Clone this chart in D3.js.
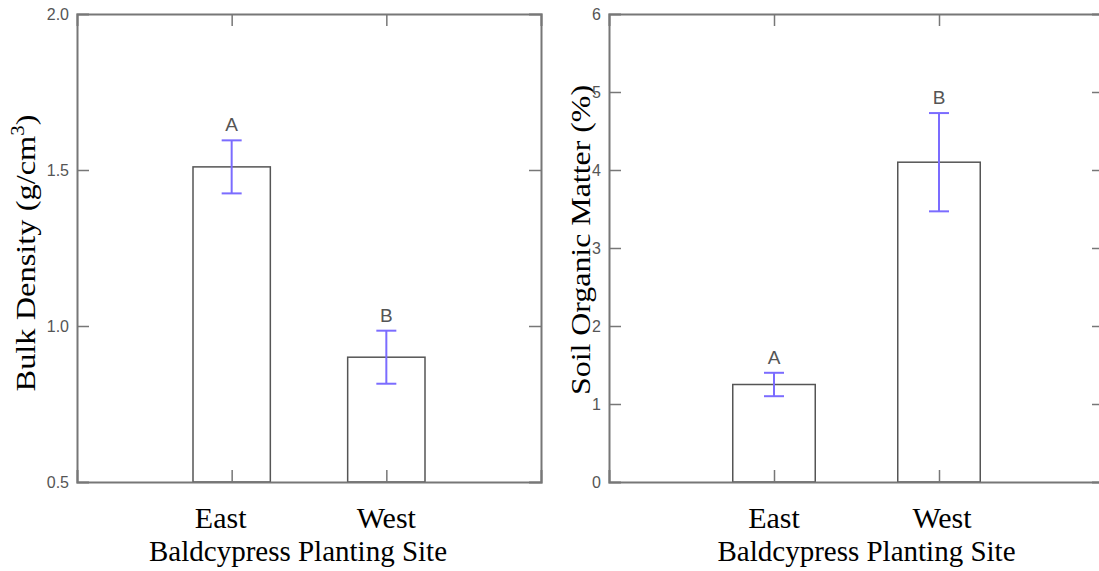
<!DOCTYPE html>
<html>
<head>
<meta charset="utf-8">
<script src="https://cdn.jsdelivr.net/npm/d3@7"></script>
<style>
  body { margin: 0; background: #fff; }
  svg { display: block; }
</style>
</head>
<body>
<div id="chart"></div>
<script>
'use strict'
/* Datos */
var sites = ['East', 'West'];
var bulkDensity = [1.51, 0.90];
var bulkErr = [0.085, 0.085];
var bulkLetters = ['A', 'B'];
var bulkTicks = [0.5, 1.0, 1.5, 2.0];

var organic = [1.25, 4.10];
var organicErr = [0.15, 0.63];
var organicLetters = ['A', 'B'];
var organicTicks = [0, 1, 2, 3, 4, 5, 6];

var W = 1099, H = 571;
var serif = 'Liberation Serif, Times New Roman, serif';
var sans = 'Liberation Sans, Arial, sans-serif';
var svg = d3.select('#chart').append('svg').attr('width', W).attr('height', H);

function panel(opts){
  var x0 = opts.x0, x1 = opts.x1, top = 14, bottom = 482;
  var g = svg.append('g');
  var x = d3.scalePoint().domain(sites).range([x0, x1]).padding(1);
  var y = d3.scaleLinear().domain(opts.domain).range([bottom, top]);
  var bw = x.step() / 2;

  // barras
  g.selectAll('rect.bar')
   .data(opts.values)
   .enter()
   .append('rect')
   .attr('x', (d, i) => x(sites[i]) - bw / 2)
   .attr('y', d => y(d))
   .attr('width', bw)
   .attr('height', d => bottom - y(d))
   .attr('fill', 'none')
   .attr('stroke', '#555')
   .attr('stroke-width', 1.5);

  // titulo del eje y (debajo de las etiquetas)
  var ty = g.append('text')
   .attr('transform', 'translate(' + opts.titleX + ',' + opts.titleY + ') rotate(-90)')
   .attr('text-anchor', 'middle')
   .attr('textLength', opts.titleLen)
   .attr('lengthAdjust', 'spacingAndGlyphs')
   .style('font-family', serif)
   .style('font-size', opts.titleSize + 'px');
  opts.title(ty);

  // ejes (marco con marcas hacia dentro)
  var left = g.append('g').attr('transform', 'translate(' + x0 + ',0)')
    .call(d3.axisLeft(y).tickValues(opts.ticks).tickSize(-12).tickPadding(8).tickFormat(opts.fmt));
  var right = g.append('g').attr('transform', 'translate(' + x1 + ',0)')
    .call(d3.axisRight(y).tickValues(opts.ticks).tickSize(-12).tickFormat(''));
  var topAx = g.append('g').attr('transform', 'translate(0,' + top + ')')
    .call(d3.axisTop(x).tickSize(-12).tickFormat(''));
  var botAx = g.append('g').attr('transform', 'translate(0,' + bottom + ')')
    .call(d3.axisBottom(x).tickSize(-12).tickFormat(''));
  [left, right, topAx, botAx].forEach(a => {
    a.select('.domain').attr('stroke', '#777').attr('stroke-width', 2);
    a.selectAll('.tick line').attr('stroke', '#777').attr('stroke-width', 1.5);
    a.selectAll('.tick text').attr('fill', '#555').style('font-family', sans).style('font-size', '16px');
  });
  left.selectAll('.tick line').filter(d => d === opts.domain[0] || d === opts.domain[1]).remove();
  right.selectAll('.tick line').filter(d => d === opts.domain[0] || d === opts.domain[1]).remove();

  // barras de error
  var eb = g.selectAll('g.err')
    .data(opts.values)
    .enter()
    .append('g')
    .attr('stroke', '#7b6cff')
    .attr('stroke-width', 2);
  eb.append('line')
    .attr('x1', (d, i) => x(sites[i])).attr('x2', (d, i) => x(sites[i]))
    .attr('y1', (d, i) => y(d + opts.err[i])).attr('y2', (d, i) => y(d - opts.err[i]));
  eb.append('line')
    .attr('x1', (d, i) => x(sites[i]) - 10).attr('x2', (d, i) => x(sites[i]) + 10)
    .attr('y1', (d, i) => y(d + opts.err[i])).attr('y2', (d, i) => y(d + opts.err[i]));
  eb.append('line')
    .attr('x1', (d, i) => x(sites[i]) - 10).attr('x2', (d, i) => x(sites[i]) + 10)
    .attr('y1', (d, i) => y(d - opts.err[i])).attr('y2', (d, i) => y(d - opts.err[i]));

  // letras
  g.selectAll('text.letter')
   .data(opts.values)
   .enter()
   .append('text')
   .attr('x', (d, i) => x(sites[i]))
   .attr('y', (d, i) => y(d + opts.err[i]) - 9)
   .attr('text-anchor', 'middle')
   .attr('fill', '#555')
   .style('font-family', sans)
   .style('font-size', '19px')
   .text((d, i) => opts.letters[i]);

  // categorias
  g.selectAll('text.cat')
   .data(sites)
   .enter()
   .append('text')
   .attr('x', (d, i) => x(d) + opts.catDx[i])
   .attr('y', 528)
   .attr('text-anchor', 'middle')
   .style('font-family', serif)
   .style('font-size', '30px')
   .text(d => d);

  g.append('text')
   .attr('x', (x(sites[0]) + x(sites[1])) / 2 + opts.xtDx)
   .attr('y', 561)
   .attr('text-anchor', 'middle')
   .style('font-family', serif)
   .style('font-size', '29px')
   .text('Baldcypress Planting Site');
}

panel({
  x0: 77, x1: 541, domain: [0.5, 2.0], values: bulkDensity, err: bulkErr,
  letters: bulkLetters, ticks: bulkTicks, fmt: d3.format('.1f'),
  titleX: 35, titleY: 253, titleLen: 277, titleSize: 28, catDx: [-11, 0], xtDx: -11,
  title: t => {
    t.append('tspan').text('Bulk Density (g/cm');
    t.append('tspan').attr('dy', -11).style('font-size', '18px').text('3');
    t.append('tspan').attr('dy', 11).text(')');
  }
});

panel({
  x0: 609, x1: 1104, domain: [0, 6], values: organic, err: organicErr,
  letters: organicLetters, ticks: organicTicks, fmt: d3.format('d'),
  titleX: 590, titleY: 240, titleLen: 310, titleSize: 27, catDx: [0, 3], xtDx: 10,
  title: t => t.text('Soil Organic Matter (%)')
});
</script>
</body>
</html>
